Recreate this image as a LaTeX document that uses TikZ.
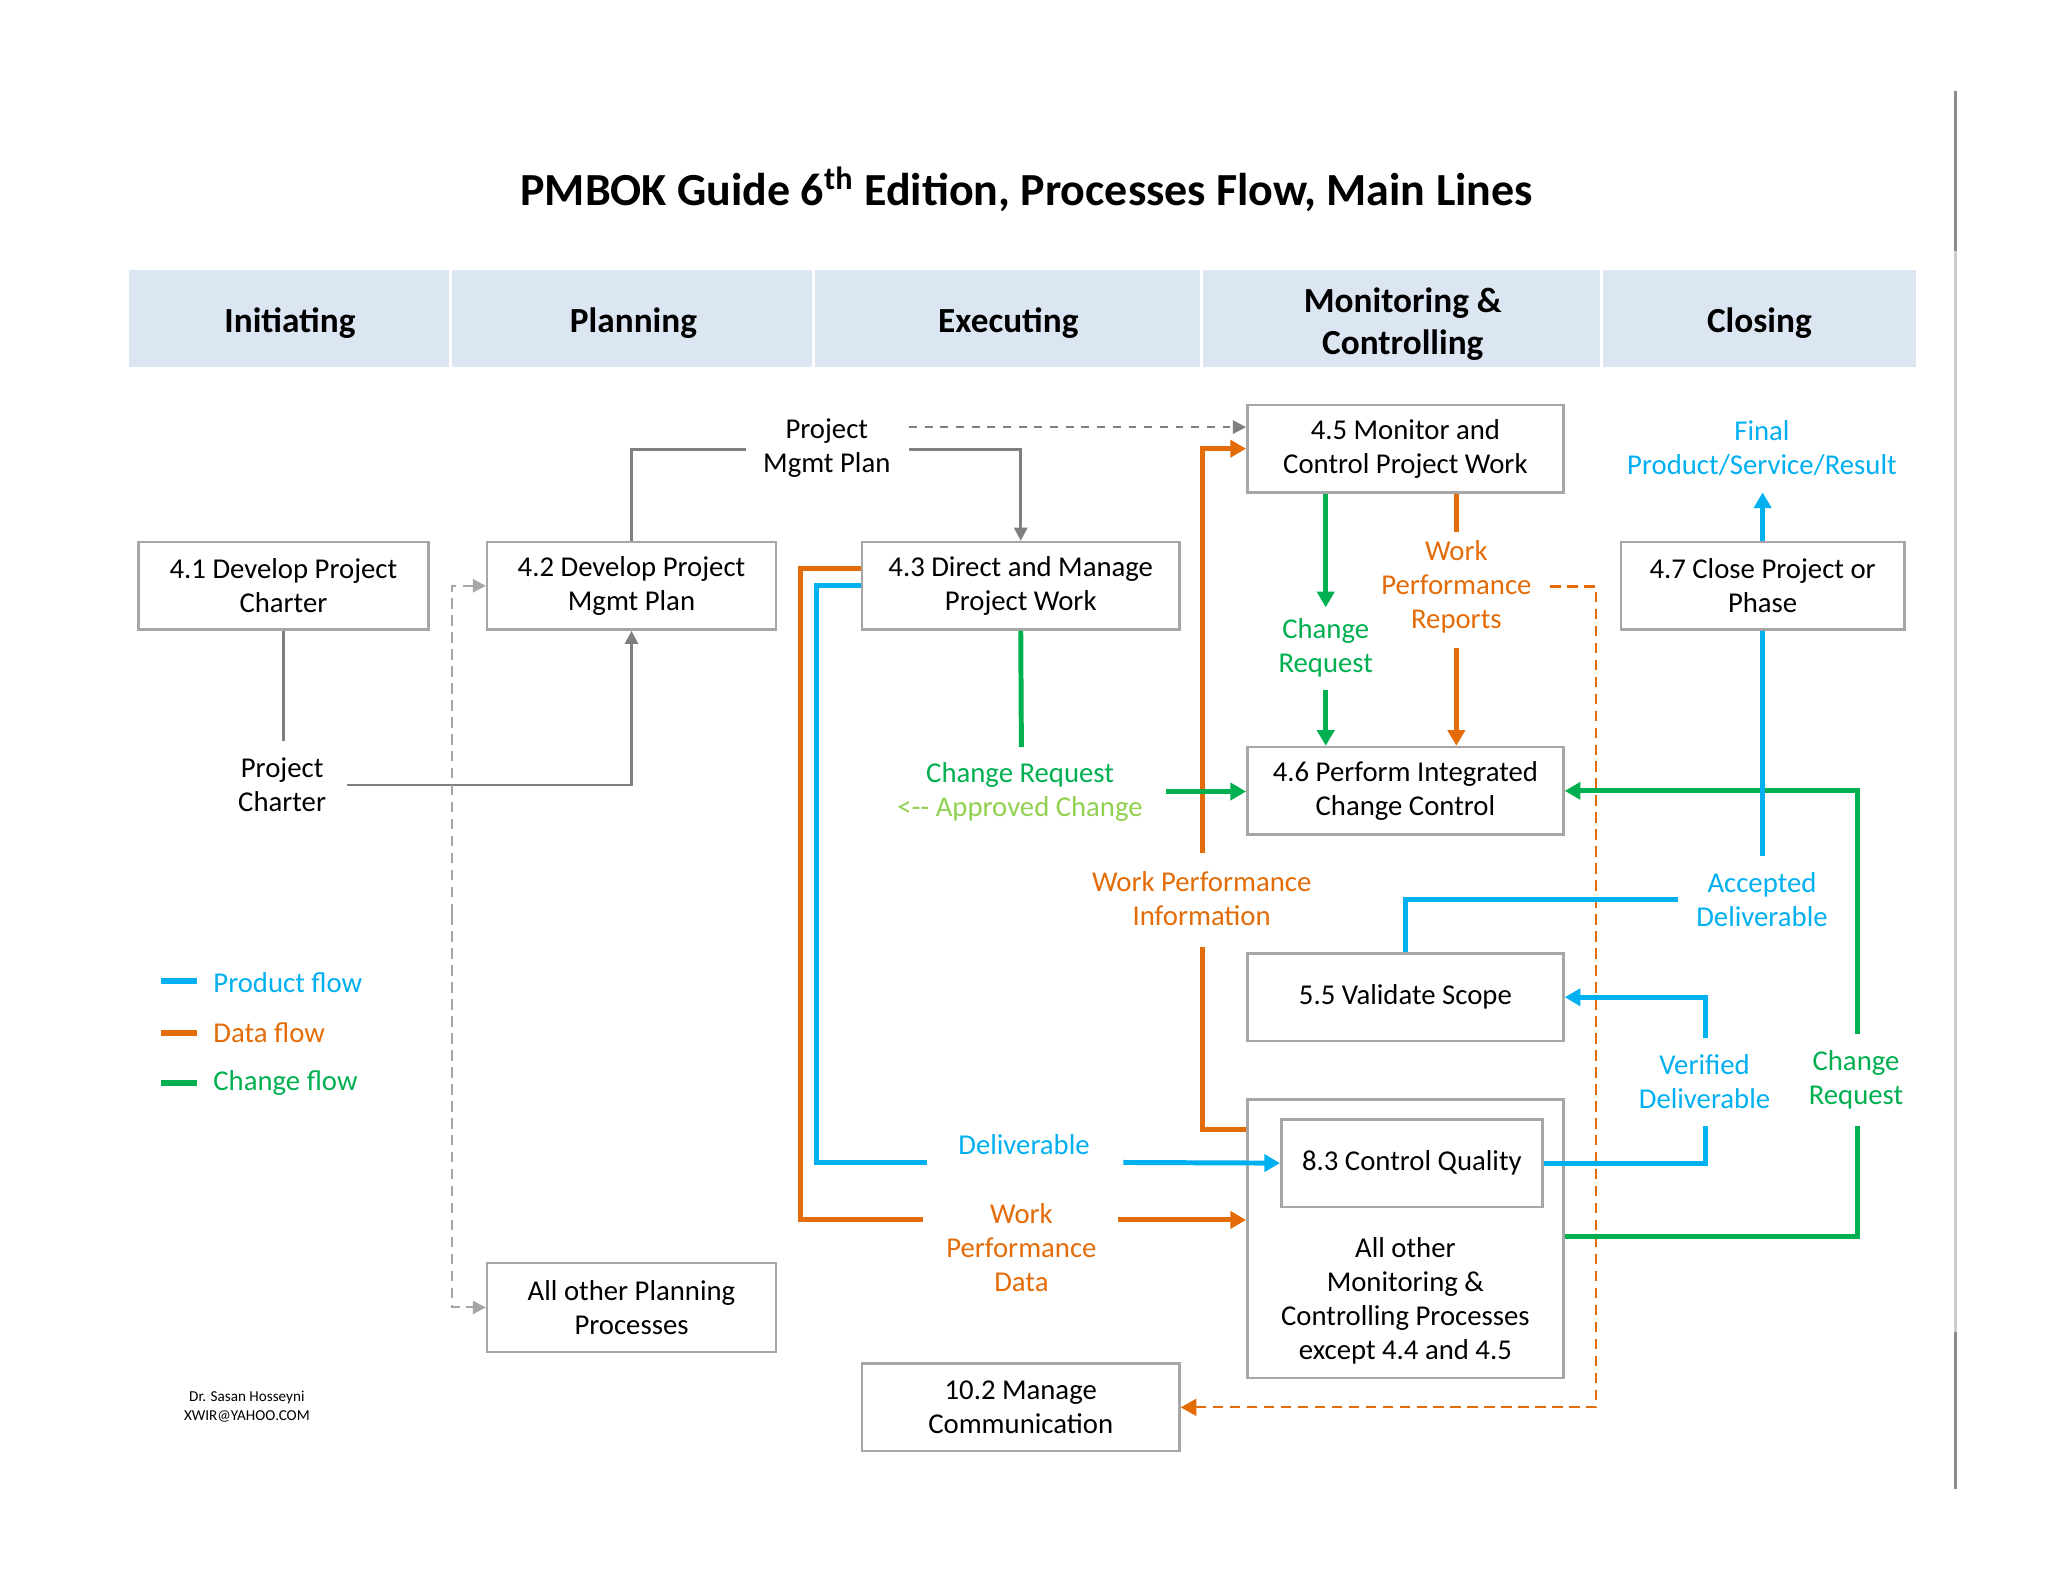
\documentclass[tikz,border=0pt]{standalone}
\usepackage{fontspec}
\setmainfont{Carlito}
\usetikzlibrary{arrows.meta,calc}
\definecolor{cblue}{HTML}{00B0F0}
\definecolor{corange}{HTML}{E36C09}
\definecolor{cgreen}{HTML}{00B050}
\definecolor{clgreen}{HTML}{92D050}
\definecolor{boxgray}{HTML}{A6A6A6}
\definecolor{linegray}{HTML}{7F7F7F}
\definecolor{dashgray}{HTML}{A6A6A6}
\definecolor{headfill}{HTML}{DCE6F2}
\newcommand{\boxfont}{\fontsize{11}{13}\selectfont}
\newcommand{\headfont}{\fontsize{13.5}{16}\selectfont\bfseries}
\tikzset{
  box/.style={draw=boxgray, line width=1pt, fill=white, minimum height=33.5pt, inner sep=0pt, align=center, font=\boxfont},
  lbl/.style={inner sep=0pt, align=center, font=\boxfont},
  hlbl/.style={inner sep=0pt, align=center, font=\headfont, yshift=-1pt},
  gline/.style={draw=linegray, line width=1pt},
  pflow/.style={draw=cblue, line width=1.9pt},
  dflow/.style={draw=corange, line width=1.9pt},
  cflow/.style={draw=cgreen, line width=1.9pt},
  tip/.style={-{Triangle[length=6pt,width=6.5pt]}},
  gtip/.style={-{Triangle[length=5pt,width=5pt]}},
}
\begin{document}
\begin{tikzpicture}[x=0.5pt,y=-0.5pt]
\useasboundingbox[fill=white] (0,0) rectangle (1568,1211);
% right edge line
\draw[line width=1pt, color=black!20] (1497,70) -- (1497,1140);
\draw[line width=1pt, color=black!45] (1497,70) -- (1497,192);
\draw[line width=1pt, color=black!45] (1497,1020) -- (1497,1140);
% title
\node[inner sep=0pt, font=\fontsize{17.6}{20}\selectfont\bfseries] (title) at (786,145) {PMBOK Guide 6\textsuperscript{th} Edition, Processes Flow, Main Lines};
% header band
\fill[headfill] (99,207) rectangle (1467,281);
\foreach \xx in {345,623,920,1226} \draw[white, line width=1.2pt] (\xx,207) -- (\xx,281);
\node[hlbl] (hini) at (222,245) {Initiating};
\node[hlbl] (hpla) at (485,245) {Planning};
\node[hlbl] (hexe) at (772,245) {Executing};
\node[hlbl] (hmon) at (1074,246) {Monitoring \&\\Controlling};
\node[hlbl] (hclo) at (1347,245) {Closing};
% boxes
\node[box, minimum width=111pt] (b41) at (217,448.5) {4.1 Develop Project\\Charter};
\node[box, minimum width=110.5pt] (b42) at (483.5,448.5) {4.2 Develop Project\\Mgmt Plan};
\node[box, minimum width=121.5pt] (b43) at (781.5,448.5) {4.3 Direct and Manage\\Project Work};
\node[box, minimum width=121pt] (b45) at (1076,343.5) {4.5 Monitor and\\Control Project Work};
\node[box, minimum width=108.5pt] (b47) at (1349.5,448.5) {4.7 Close Project or\\Phase};
\node[box, minimum width=121pt] (b46) at (1076,605.5) {4.6 Perform Integrated\\Change Control};
\node[box, minimum width=121pt] (b55) at (1076,763.5) {5.5 Validate Scope};
\node[box, minimum width=121pt, minimum height=106.5pt] (bmc) at (1076,948.5) {};
\node[box, minimum width=100pt] (b83) at (1081,890.5) {8.3 Control Quality};
\node[lbl] (mctext) at (1076,996) {All other\\Monitoring \&\\Controlling Processes\\except 4.4 and 4.5};
\node[box, minimum width=110.5pt, minimum height=34pt] (bop) at (483.5,1001) {All other Planning\\Processes};
\node[box, minimum width=121.5pt] (b102) at (781.5,1077.5) {10.2 Manage\\Communication};
% labels
\node[lbl] (pc) at (216,601) {Project\\Charter};
\node[lbl] (pmp) at (633,343) {Project\\Mgmt Plan};
\node[lbl, text=cblue] (fpsr) at (1349,343) {Final\\Product/Service/Result};
\node[lbl, text=corange] (wpr) at (1115,449) {Work\\Performance\\Reports};
\node[lbl, text=cgreen] (cr1) at (1015,496) {Change\\Request};
\node[lbl] (cr2) at (781,606) {\textcolor{cgreen}{Change Request}\\\textcolor{clgreen}{<\mbox{-}\mbox{-} Approved Change}};
\node[lbl, text=corange] (wpi) at (920,688) {Work Performance\\Information};
\node[lbl, text=cblue] (ad) at (1349,689) {Accepted\\Deliverable};
\node[lbl, text=cblue] (vd) at (1305,828) {Verified\\Deliverable};
\node[lbl, text=cgreen] (cr3) at (1421,827) {Change\\Request};
\node[lbl, text=cblue] (del) at (784,876) {Deliverable};
\node[lbl, text=corange] (wpd) at (782,955) {Work\\Performance\\Data};
% legend
\draw[pflow, line width=2.4pt] (123,751) coordinate (lp1) -- (151,751) coordinate (lp2);
\draw[dflow, line width=2.4pt] (123,791) coordinate (ld1) -- (151,791) coordinate (ld2);
\draw[cflow, line width=2.4pt] (123,829) coordinate (lc1) -- (151,829) coordinate (lc2);
\node[lbl, anchor=west, text=cblue] (lgp) at (163,752) {Product flow};
\node[lbl, anchor=west, text=corange] (lgd) at (163,791) {Data flow};
\node[lbl, anchor=west, text=cgreen] (lgc) at (163,829) {Change flow};
\node[inner sep=0pt, align=center, font=\fontsize{5.8}{7}\selectfont] (auth) at (189,1077) {Dr. Sasan Hosseyni\\XWIR@YAHOO.COM};
% coordinates
\coordinate (c1) at (217,567);
\coordinate (c2) at (266,601);
\coordinate (c3) at (571,344);
\coordinate (c4) at (696,344);
\coordinate (c5) at (696,327);
\coordinate (c6) at (346,700);
\coordinate (o1) at (613,934);
\coordinate (c7) at (707,934);
\coordinate (c8) at (856,934);
\coordinate (c9) at (921,653);
\coordinate (c10) at (921,725);
\coordinate (c11) at (1115,407);
\coordinate (c12) at (1115,496);
\coordinate (c13) at (1187,449);
\coordinate (c14) at (1222,1077.5);
\coordinate (c15) at (1015,465);
\coordinate (c16) at (1015,528);
\coordinate (c17) at (782,572);
\coordinate (c18) at (893,606);
\coordinate (c19) at (1422,862);
\coordinate (c20) at (1422,792);
\coordinate (bl1) at (625,890);
\coordinate (c21) at (710,890);
\coordinate (c22) at (860,890);
\coordinate (c23) at (1306,862);
\coordinate (c24) at (1306,795);
\coordinate (c25) at (1285,689);
\coordinate (c26) at (1349.5,655);
\coordinate (c27) at (1349.5,377);
% gray connectors
\draw[gline] (b41.south) -- (c1);
\draw[gline, gtip] (c2) -| (b42.south);
\draw[gline] (b42.north) |- (c3);
\draw[gline, gtip] (c4) -| (b43.north);
\draw[gline, dashed, gtip] (c5) -- (c5 -| b45.west);
\draw[draw=dashgray, line width=0.8pt, dash pattern=on 4pt off 2.5pt, gtip] (c6) |- (b42.west);
\draw[draw=dashgray, line width=0.8pt, dash pattern=on 4pt off 2.5pt, gtip] (c6) |- (bop.west);
% orange
\draw[dflow] ([yshift=6.75pt]b43.west) -| (o1) -- (c7);
\draw[dflow, tip] (c8) -- (c8 -| bmc.west);
\draw[dflow, tip] (c9) |- (b45.west);
\draw[dflow] ([yshift=41.75pt]bmc.west) -| (c10);
\draw[dflow] (b45.south -| c11) -- (c11);
\draw[dflow, tip] (c12) -- (c12 |- b46.north);
\draw[draw=corange, line width=0.8pt, dash pattern=on 4pt off 2.5pt, tip] (c13) -| (c14) -- (b102.east);
% green
\draw[cflow, tip] (b45.south -| c15) -- (c15);
\draw[cflow, tip] (c16) -- (c16 |- b46.north);
\draw[cflow] (b43.south) -- (c17);
\draw[cflow, tip] (c18) -- (c18 -| b46.west);
\draw[cflow] ([yshift=0.75pt]bmc.east) -| (c19);
\draw[cflow, tip] (c20) |- (b46.east);
% blue
\draw[pflow] (b43.west) -| (bl1) -- (c21);
\draw[pflow, tip] (c22) -- (b83.west);
\draw[pflow] (b83.east) -| (c23);
\draw[pflow, tip] (c24) |- (b55.east);
\draw[pflow] (b55.north) |- (c25);
\draw[pflow] (c26) -- (b47.south);
\draw[pflow, tip] (b47.north) -- (c27);
\end{tikzpicture}
\end{document}
